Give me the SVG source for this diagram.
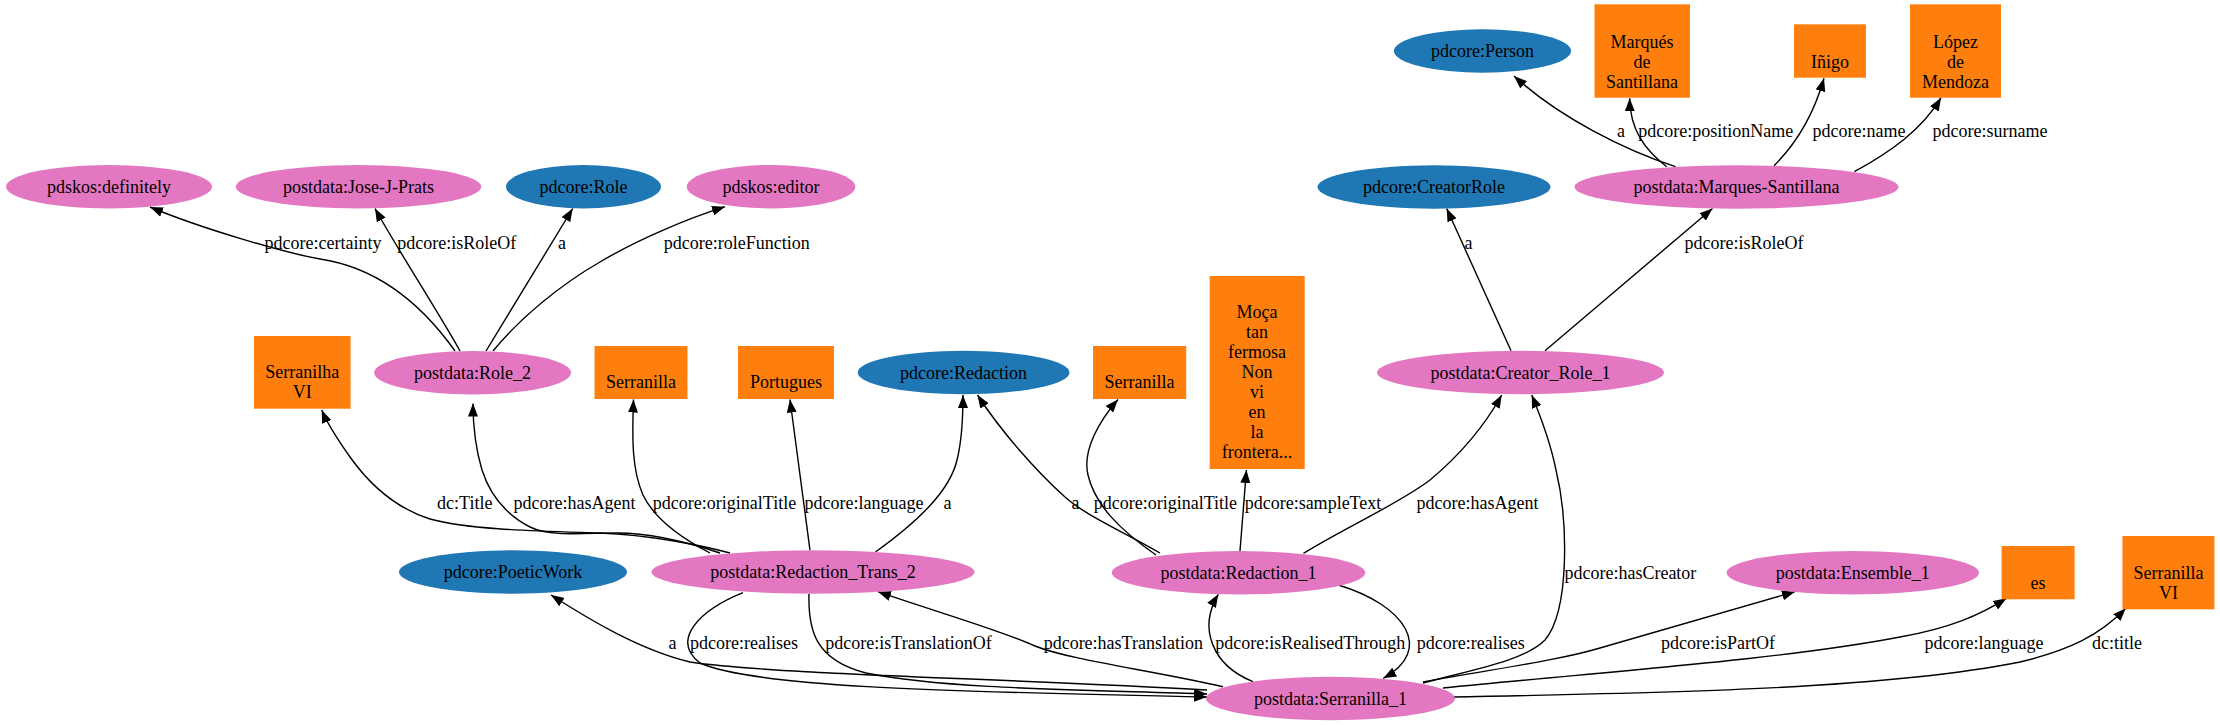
<svg xmlns="http://www.w3.org/2000/svg" width="2220" height="725" viewBox="0 0 2220 725">
<style>
text{font-family:"Liberation Serif","Times New Roman",serif;font-size:18px;text-anchor:middle;fill:#000}
.pink{fill:#e377c2}
.blue{fill:#1f77b4}
.lit{fill:#ff7f0e}
.e{fill:none;stroke:#000;stroke-width:1.4;marker-end:url(#arr)}
</style>
<defs>
<marker id="arr" markerUnits="userSpaceOnUse" markerWidth="13" markerHeight="10" refX="13" refY="5" orient="auto" viewBox="0 0 13 10">
<path d="M0,0 L13,5 L0,10 z" fill="#000"/>
</marker>
</defs>
<rect width="2220" height="725" fill="#fff"/>

<g id="edges">
<path class="e" d="M455,351 C423,306 380,268 320,259 C285,253 200,228 150,207"/>
<path class="e" d="M460,351 C440,315 395,245 375,208.5"/>
<path class="e" d="M486,351 L572.7,208.5"/>
<path class="e" d="M493,351 C520,318 560,285 600,262 C640,238 690,218 725,206.7"/>
<path class="e" d="M1675.5,166.7 C1625,150 1560,118 1514,76"/>
<path class="e" d="M1666.7,166.7 C1645,150 1630,130 1629.7,98.3"/>
<path class="e" d="M1774,165.7 C1800,140 1815,110 1824,78.3"/>
<path class="e" d="M1854.4,171.7 C1890,152 1922,130 1941,97.7"/>
<path class="e" d="M1511,350.7 L1446.7,208.5"/>
<path class="e" d="M1545,350.7 L1712.5,208.5"/>
<path class="e" d="M730,553 C700,545 650,535 600,533 C540,531 470,530 430,519 C395,508 370,485 350,457 C338,440 328,425 321.7,410"/>
<path class="e" d="M720,553 C690,543 650,533 617,533 C585,533 550,537 530,527 C505,514 490,495 482,470 C476,450 473,430 473,403.5"/>
<path class="e" d="M710,553 C685,540 655,520 643,495 C632,470 632,440 633.5,399.5"/>
<path class="e" d="M810,550.3 L790,399.5"/>
<path class="e" d="M875.5,552 C920,520 950,490 957,460 C962,440 963,415 963,395"/>
<path class="e" d="M1160,553 C1120,530 1085,515 1065,497 C1035,470 1000,430 977.5,395"/>
<path class="e" d="M1156,555 C1120,530 1095,505 1088,475 C1082,450 1100,420 1118,399.5"/>
<path class="e" d="M1240,551 L1246.4,470"/>
<path class="e" d="M1303.5,553.3 C1350,525 1400,503 1430,480 C1460,455 1485,425 1501.7,395"/>
<path class="e" d="M1423,683 C1480,668 1525,660 1545,640 C1570,610 1568,520 1556,470 C1550,440 1540,415 1531.7,395"/>
<path class="e" d="M1207,690 C1000,678 780,675 690,662 C640,650 590,620 551,595"/>
<path class="e" d="M743,592.7 C700,610 670,640 700,663 C760,690 1000,692 1207,697"/>
<path class="e" d="M809,594 C808,630 815,660 866,673 C950,690 1100,690 1207,694"/>
<path class="e" d="M1223,686.7 C1150,670 1070,660 1035,646 C1000,630 930,610 878,591.7"/>
<path class="e" d="M1253,681.7 C1212,665 1198,628 1218.3,594.3"/>
<path class="e" d="M1338.3,585 C1405,605 1435,650 1383.3,678.3"/>
<path class="e" d="M1423,682 C1500,668 1560,660 1600,648 C1680,625 1750,605 1795,591.7"/>
<path class="e" d="M1443,688 C1600,672 1780,660 1900,637 C1950,628 1980,615 2006.4,598.3"/>
<path class="e" d="M1454,697 C1650,693 1880,690 2020,662 C2070,650 2100,635 2125.8,608.3"/>

<text x="323" y="249">pdcore:certainty</text>
<text x="456.7" y="249">pdcore:isRoleOf</text>
<text x="562" y="249">a</text>
<text x="736.7" y="249">pdcore:roleFunction</text>
<text x="1468.4" y="249.3">a</text>
<text x="1744" y="249.3">pdcore:isRoleOf</text>
<text x="1621" y="137">a</text>
<text x="1715.7" y="137">pdcore:positionName</text>
<text x="1859" y="137">pdcore:name</text>
<text x="1990" y="137">pdcore:surname</text>
<text x="464.8" y="509">dc:Title</text>
<text x="574.5" y="509">pdcore:hasAgent</text>
<text x="724.5" y="509">pdcore:originalTitle</text>
<text x="864" y="509">pdcore:language</text>
<text x="947.5" y="509">a</text>
<text x="1075.5" y="509">a</text>
<text x="1165.4" y="509">pdcore:originalTitle</text>
<text x="1313" y="509">pdcore:sampleText</text>
<text x="1477.5" y="509">pdcore:hasAgent</text>
<text x="1630.4" y="579">pdcore:hasCreator</text>
<text x="672.6" y="648.5">a</text>
<text x="744" y="648.5">pdcore:realises</text>
<text x="908.5" y="648.5">pdcore:isTranslationOf</text>
<text x="1123.3" y="648.5">pdcore:hasTranslation</text>
<text x="1310.2" y="648.5">pdcore:isRealisedThrough</text>
<text x="1470.7" y="648.5">pdcore:realises</text>
<text x="1718" y="648.5">pdcore:isPartOf</text>
<text x="1984" y="648.5">pdcore:language</text>
<text x="2117" y="648.5">dc:title</text>
</g>

<g id="n_definitely"><ellipse class="pink" cx="109" cy="186.7" rx="103" ry="21.7"/><text x="109" y="192.7">pdskos:definitely</text></g>
<g id="n_jose"><ellipse class="pink" cx="358.5" cy="186.7" rx="122.7" ry="21.7"/><text x="358.5" y="192.7">postdata:Jose-J-Prats</text></g>
<g id="n_role"><ellipse class="blue" cx="583.5" cy="186.7" rx="77.5" ry="21.7"/><text x="583.5" y="192.7">pdcore:Role</text></g>
<g id="n_editor"><ellipse class="pink" cx="771" cy="186.7" rx="84.3" ry="21.7"/><text x="771" y="192.7">pdskos:editor</text></g>
<g id="n_creatorrole"><ellipse class="blue" cx="1434" cy="187" rx="116.5" ry="21.7"/><text x="1434" y="193">pdcore:CreatorRole</text></g>
<g id="n_marques"><ellipse class="pink" cx="1736.5" cy="187" rx="162" ry="21.7"/><text x="1736.5" y="193">postdata:Marques-Santillana</text></g>
<g id="n_person"><ellipse class="blue" cx="1482.5" cy="51" rx="88.6" ry="21.7"/><text x="1482.5" y="57">pdcore:Person</text></g>
<g id="n_role2"><ellipse class="pink" cx="472.6" cy="372.7" rx="98.4" ry="21.7"/><text x="472.6" y="378.7">postdata:Role_2</text></g>
<g id="n_redaction"><ellipse class="blue" cx="963.6" cy="372.5" rx="105.9" ry="21.7"/><text x="963.6" y="378.5">pdcore:Redaction</text></g>
<g id="n_creatorrole1"><ellipse class="pink" cx="1520.5" cy="372.5" rx="143.5" ry="21.7"/><text x="1520.5" y="378.5">postdata:Creator_Role_1</text></g>
<g id="n_poeticwork"><ellipse class="blue" cx="513" cy="572" rx="114" ry="21.7"/><text x="513" y="578">pdcore:PoeticWork</text></g>
<g id="n_trans2"><ellipse class="pink" cx="813" cy="572" rx="161.6" ry="21.7"/><text x="813" y="578">postdata:Redaction_Trans_2</text></g>
<g id="n_redaction1"><ellipse class="pink" cx="1238.5" cy="572.7" rx="126.7" ry="21.7"/><text x="1238.5" y="578.7">postdata:Redaction_1</text></g>
<g id="n_ensemble1"><ellipse class="pink" cx="1852.8" cy="572.7" rx="126.2" ry="21.7"/><text x="1852.8" y="578.7">postdata:Ensemble_1</text></g>
<g id="n_serranilla1"><ellipse class="pink" cx="1330.5" cy="698.5" rx="124.5" ry="21.7"/><text x="1330.5" y="704.5">postdata:Serranilla_1</text></g>

<g id="l_serranilhaVI"><rect class="lit" x="254" y="336" width="96.6" height="72.7"/><text x="302.3" y="378.3">Serranilha</text><text x="302.3" y="398.3">VI</text></g>
<g id="l_serranilla_a"><rect class="lit" x="594.5" y="346" width="93" height="53"/><text x="641" y="388.3">Serranilla</text></g>
<g id="l_portugues"><rect class="lit" x="738" y="346" width="96" height="53"/><text x="786" y="388.3">Portugues</text></g>
<g id="l_serranilla_b"><rect class="lit" x="1093" y="346" width="93.2" height="53"/><text x="1139.6" y="388.3">Serranilla</text></g>
<g id="l_moca"><rect class="lit" x="1209.7" y="276" width="95" height="193"/>
<text x="1257" y="318.3">Moça</text><text x="1257" y="338.3">tan</text><text x="1257" y="358.3">fermosa</text><text x="1257" y="378.3">Non</text><text x="1257" y="398.3">vi</text><text x="1257" y="418.3">en</text><text x="1257" y="438.3">la</text><text x="1257" y="458.3">frontera...</text></g>
<g id="l_marques"><rect class="lit" x="1594.5" y="4.3" width="95.5" height="93.4"/><text x="1642" y="47.7">Marqués</text><text x="1642" y="67.7">de</text><text x="1642" y="87.7">Santillana</text></g>
<g id="l_inigo"><rect class="lit" x="1794" y="24.3" width="72" height="53.4"/><text x="1830" y="67.7">Iñigo</text></g>
<g id="l_lopez"><rect class="lit" x="1910" y="4.3" width="91" height="93.4"/><text x="1955.5" y="47.7">López</text><text x="1955.5" y="67.7">de</text><text x="1955.5" y="87.7">Mendoza</text></g>
<g id="l_es"><rect class="lit" x="2001.6" y="546" width="73" height="53.3"/><text x="2038" y="589.3">es</text></g>
<g id="l_serranillaVI"><rect class="lit" x="2122.4" y="536" width="92" height="73.3"/><text x="2168.4" y="579.3">Serranilla</text><text x="2168.4" y="599.3">VI</text></g>
</svg>
